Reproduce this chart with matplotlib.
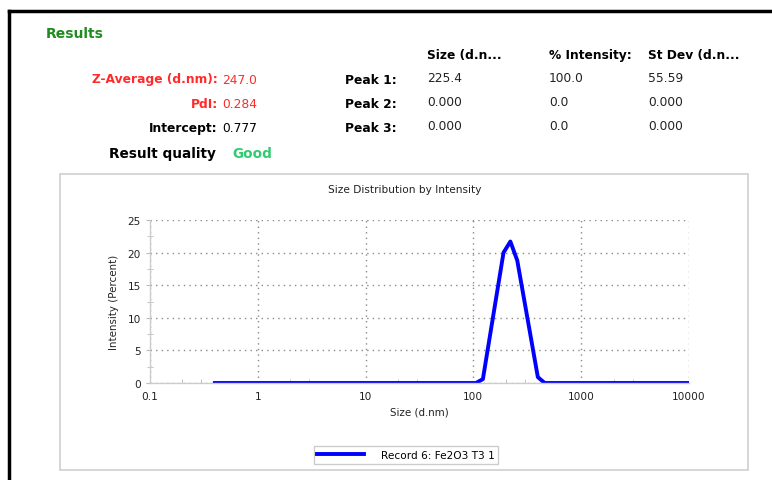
import matplotlib
matplotlib.use("Agg")
import matplotlib.pyplot as plt
from matplotlib.lines import Line2D
from matplotlib.patches import Rectangle
from matplotlib.ticker import FixedLocator, NullFormatter

plt.rcParams['font.family'] = ['DejaVu Sans']

# size distribution (vertices of the intensity curve)
size_nm = [0.4, 105.8, 122.5, 190.3, 220.3, 255.1, 396.1, 458.7, 10000]
intensity = [0.0, 0.0, 0.6, 20.0, 21.7, 18.8, 0.9, 0.0, 0.0]
record_name = "Record 6: Fe2O3 T3 1"

# summary values
z_average = "247.0"
pdi = "0.284"
intercept = "0.777"
quality = "Good"

# peak table
peak_names = ["Peak 1:", "Peak 2:", "Peak 3:"]
col_headers = ["Size (d.n...", "% Intensity:", "St Dev (d.n..."]
peak_size = ["225.4", "0.000", "0.000"]
peak_int = ["100.0", "0.0", "0.0"]
peak_sd = ["55.59", "0.000", "0.000"]

W, H = 772, 481
fig = plt.figure(figsize=(W / 100, H / 100), dpi=100)


def px(x, y):
    return x / W, 1 - y / H


def put(x, y, s, **kw):
    fig.text(*px(x, y), s, va='center', **kw)


# outer frame (left and top edges)
fig.add_artist(Line2D([9 / W, 9 / W], [0, 1 - 12 / H], color='black', lw=2.5,
                      transform=fig.transFigure))
fig.add_artist(Line2D([9 / W, 1], [1 - 12 / H, 1 - 12 / H], color='black', lw=2.5,
                      transform=fig.transFigure))

red = '#ff2a2a'
put(46, 34, "Results", color='#1e8c1e', fontsize=10, fontweight='bold')
put(218, 80, "Z-Average (d.nm):", color=red, fontsize=8.8, fontweight='bold', ha='right')
put(222, 80, z_average, color=red, fontsize=8.8)
put(218, 104, "PdI:", color=red, fontsize=8.8, fontweight='bold', ha='right')
put(222, 104, pdi, color=red, fontsize=8.8)
put(218, 129, "Intercept:", color='black', fontsize=8.8, fontweight='bold', ha='right')
put(222, 129, intercept, color='black', fontsize=8.8)
put(216, 154, "Result quality", color='black', fontsize=9.8, fontweight='bold', ha='right')
put(232, 154, quality, color='#2ecc71', fontsize=9.8, fontweight='bold')

col_x = [427, 549, 648]
for cx, head in zip(col_x, col_headers):
    put(cx, 56, head, fontsize=8.8, fontweight='bold')
row_y = [80, 104, 128]
for i, ry in enumerate(row_y):
    put(397, ry, peak_names[i], fontsize=8.8, fontweight='bold', ha='right')
    put(col_x[0], ry - 2, peak_size[i], fontsize=8.8, color='#222222')
    put(col_x[1], ry - 2, peak_int[i], fontsize=8.8, color='#222222')
    put(col_x[2], ry - 2, peak_sd[i], fontsize=8.8, color='#222222')

# chart panel
fig.add_artist(Rectangle(px(60, 471), 688 / W, 296 / H, transform=fig.transFigure,
                         fill=False, edgecolor='#cfcfcf', lw=1.2))
put(405, 190, "Size Distribution by Intensity", fontsize=7.6, ha='center', color='#222222')

l, r, t, b = 150, 689, 221, 384
ax = fig.add_axes([l / W, 1 - b / H, (r - l) / W, (b - t) / H])
line, = ax.plot(size_nm, intensity, color='#0000ff', lw=2.8, solid_joinstyle='round')
ax.set_xscale('log')
ax.set_xlim(0.1, 10000)
ax.set_ylim(0, 25)
ax.set_xticks([0.1, 1, 10, 100, 1000, 10000])
ax.set_xticklabels(["0.1", "1", "10", "100", "1000", "10000"])
ax.xaxis.set_minor_locator(FixedLocator([m * 10.0 ** e for e in range(-1, 4) for m in (2, 3)]))
ax.xaxis.set_minor_formatter(NullFormatter())
ax.set_yticks([0, 5, 10, 15, 20, 25])
ax.yaxis.set_minor_locator(FixedLocator([2.5, 7.5, 12.5, 17.5, 22.5]))
ax.grid(True, which='major', color='#8a8a8a', linestyle=(0, (1, 3)), lw=1)
for s in ('top', 'right'):
    ax.spines[s].set_visible(False)
for s in ('left', 'bottom'):
    ax.spines[s].set_color('#cccccc')
    ax.spines[s].set_linewidth(1)
ax.tick_params(axis='both', which='major', labelsize=7.6, labelcolor='#222222',
               color='#bbbbbb', length=3)
ax.tick_params(axis='x', which='minor', direction='in', length=3, color='#bbbbbb')
ax.tick_params(axis='y', which='minor', direction='inout', length=4, color='#bbbbbb')
ax.tick_params(axis='x', which='major', length=0, pad=6)
ax.set_xlabel("Size (d.nm)", fontsize=7.4, color='#222222', labelpad=4)
ax.set_ylabel("Intensity (Percent)", fontsize=7.4, color='#222222', labelpad=6)

fig.legend([line], [record_name], loc='center', bbox_to_anchor=px(406, 456),
           fontsize=7.6, frameon=True, fancybox=False, edgecolor='#cccccc',
           handlelength=4.4, handletextpad=1.6, borderpad=0.35, framealpha=1)

fig.savefig("out.png", dpi=100)
